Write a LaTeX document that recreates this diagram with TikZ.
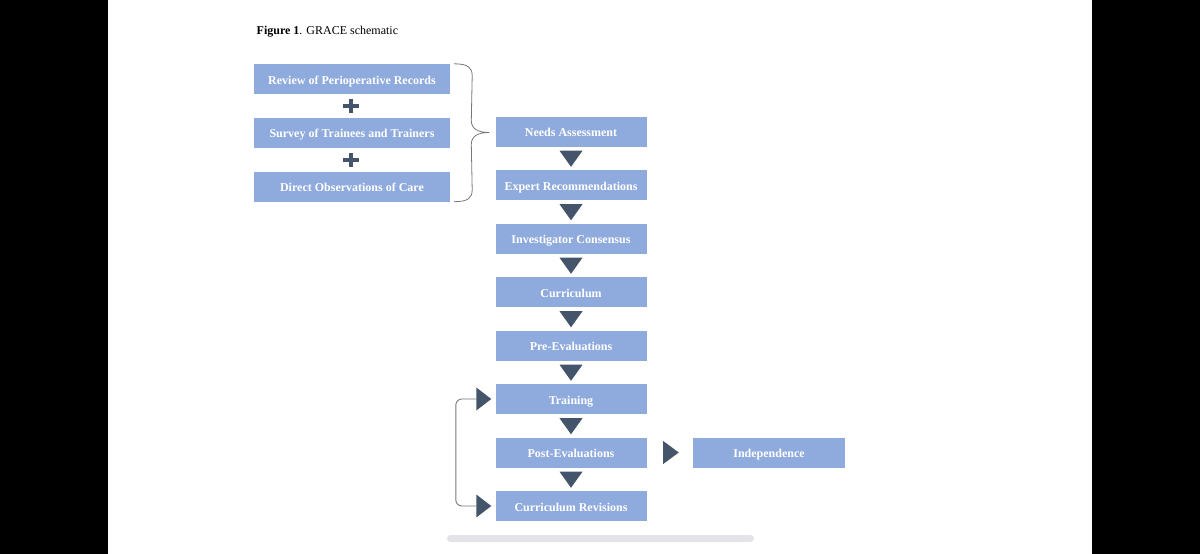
\documentclass[tikz,border=0pt]{standalone}
\usepackage{fontspec}
\setmainfont{Liberation Serif}
\usetikzlibrary{calc}
\definecolor{boxblue}{RGB}{143,170,220}
\definecolor{darkslate}{RGB}{68,84,106}
\definecolor{bracegray}{RGB}{120,120,120}
\definecolor{scrollgray}{RGB}{228,228,232}
\begin{document}
\begin{tikzpicture}[x=1pt,y=-1pt,
  box/.style={fill=boxblue, draw=none, minimum height=30pt, inner sep=0pt, text=white,
    text height=10pt, text depth=0pt,
    font=\bfseries\fontsize{12}{14}\selectfont},
  leftbox/.style={box, minimum width=196pt},
  rightbox/.style={box, minimum width=151pt},
  tri/.style={fill=darkslate, draw=none},
  plussign/.style={draw=darkslate, line width=4pt},
  bracestyle/.style={draw=bracegray, line width=0.8pt},
  loopline/.style={draw=bracegray, line width=0.9pt, rounded corners=6pt}]
\useasboundingbox (0,0) rectangle (1200,554);
\fill[black] (0,0) rectangle (108,554);
\fill[black] (1092,0) rectangle (1200,554);

\node[anchor=base west, inner sep=0pt, font=\fontsize{12}{14}\selectfont] (title) at (256.5,34.3) {\textbf{Figure 1}. GRACE schematic};

% left column
\node[leftbox] (rev) at (352,79) {Review of Perioperative Records};
\node[leftbox] (surv) at (352,132.5) {Survey of Trainees and Trainers};
\node[leftbox] (obs) at (352,186.5) {Direct Observations of Care};

% right column
\node[rightbox] (needs) at (571,131.5) {Needs Assessment};
\node[rightbox] (expert) at (571,185) {Expert Recommendations};
\node[rightbox] (invest) at (571,238.5) {Investigator Consensus};
\node[rightbox] (curr) at (571,292) {Curriculum};
\node[rightbox] (pre) at (571,345.5) {Pre-Evaluations};
\node[rightbox] (train) at (571,399) {Training};
\node[rightbox] (post) at (571,452.5) {Post-Evaluations};
\node[rightbox] (rev2) at (571,506) {Curriculum Revisions};
\node[box, minimum width=152pt] (indep) at (769,452.5) {Independence};

% plus signs
\foreach \a/\b in {rev/surv, surv/obs}{
  \coordinate (p) at ($(\a.south)!0.5!(\b.north)+(-1,0)$);
  \draw[plussign] ($(p)+(-8,0)$) -- ($(p)+(8,0)$);
  \draw[plussign] ($(p)+(0,-7)$) -- ($(p)+(0,7)$);
}

% brace
\coordinate (bt) at ($(rev.north east)+(4,0)$);
\coordinate (bb) at ($(obs.south east)+(4,0)$);
\coordinate (btip) at ($(needs.west)+(-6,1)$);
\draw[bracestyle] (bt) .. controls +(14,0) and +(0,-8) .. ($(bt)+(18,12)$)
  -- ($(btip)+(-18,-12)$) .. controls +(0,8) and +(-12,0) .. (btip)
  .. controls +(-12,0) and +(0,-8) .. ($(btip)+(-18,12)$)
  -- ($(bb)+(18,-12)$) .. controls +(0,8) and +(14,0) .. (bb);

% down triangles
\foreach \a/\b in {needs/expert, expert/invest, invest/curr, curr/pre, pre/train, train/post, post/rev2}{
  \fill[tri] ($(\a.south)+(-11.5,4)$) -- ($(\a.south)+(11.5,4)$) -- ($(\b.north)+(0,-3)$) -- cycle;
}

% right triangle to Independence
\fill[tri] ($(post.east)+(16.5,-11.5)$) -- ($(post.east)+(16.5,11.5)$) -- ($(indep.west)+(-14,0)$) -- cycle;

% loop
\coordinate (lt) at ($(train.west)+(-19,0)$);
\coordinate (lb) at ($(rev2.west)+(-19,0)$);
\draw[loopline] (lt) -- ++(-20.5,0) |- (lb);
\fill[tri] ($(train.west)+(-19,-11.5)$) -- ($(train.west)+(-19,11.5)$) -- ($(train.west)+(-4,0)$) -- cycle;
\fill[tri] ($(rev2.west)+(-19,-11.5)$) -- ($(rev2.west)+(-19,11.5)$) -- ($(rev2.west)+(-4,0)$) -- cycle;

% scrollbar
\fill[scrollgray, rounded corners=3.4pt] (447,535) rectangle (754,542);
\end{tikzpicture}
\end{document}
